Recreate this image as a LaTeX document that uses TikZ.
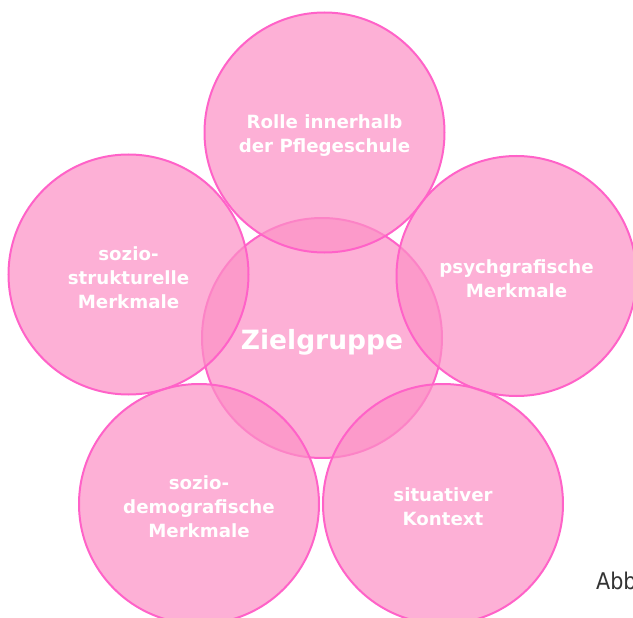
\documentclass[tikz,border=0pt]{standalone}
\usepackage{fontspec}
\setmainfont{DejaVu Sans}
\newfontfamily\condfont{DejaVu Sans Condensed}
\definecolor{pinkfill}{RGB}{252,145,198}
\definecolor{pinkline}{RGB}{255,98,200}
\definecolor{abbgray}{RGB}{51,51,51}
\tikzset{
  circ/.style={circle, minimum size=240pt, inner sep=0pt, draw=pinkline, line width=2pt, fill=pinkfill, fill opacity=0.72},
  lbl/.style={align=center, text=white, font=\bfseries\fontsize{18.2}{24}\selectfont, inner sep=0pt},
  biglbl/.style={align=center, text=white, font=\bfseries\fontsize{26.5}{30}\selectfont, inner sep=0pt}
}
\begin{document}
\begin{tikzpicture}[x=1pt,y=-1pt]
\useasboundingbox (0,0) rectangle (633,618);
\node[circ] (cen) at (322,338) {};
\node[circ] (top) at (324.5,132.5) {};
\node[circ] (lef) at (128.5,274.5) {};
\node[circ] (rig) at (516.5,276) {};
\node[circ] (bl) at (199,504) {};
\node[circ] (br) at (443,504) {};
\node[biglbl] (tcen) at ([yshift=-4pt]cen) {Zielgruppe};
\node[lbl] (ttop) at ([yshift=-3pt]top) {Rolle innerhalb\\der Pflegeschule};
\node[lbl] (tlef) at ([yshift=-3pt]lef) {sozio-\\strukturelle\\Merkmale};
\node[lbl] (trig) at ([yshift=-3pt]rig) {psychgrafische\\Merkmale};
\node[lbl] (tbl) at ([yshift=-3pt]bl) {sozio-\\demografische\\Merkmale};
\node[lbl] (tbr) at ([yshift=-3pt]br) {situativer\\Kontext};
\node[anchor=base west, inner sep=0pt, text=abbgray, font=\condfont\fontsize{23}{28}\selectfont] (abb) at (596,589) {Abb};
\end{tikzpicture}
\end{document}
